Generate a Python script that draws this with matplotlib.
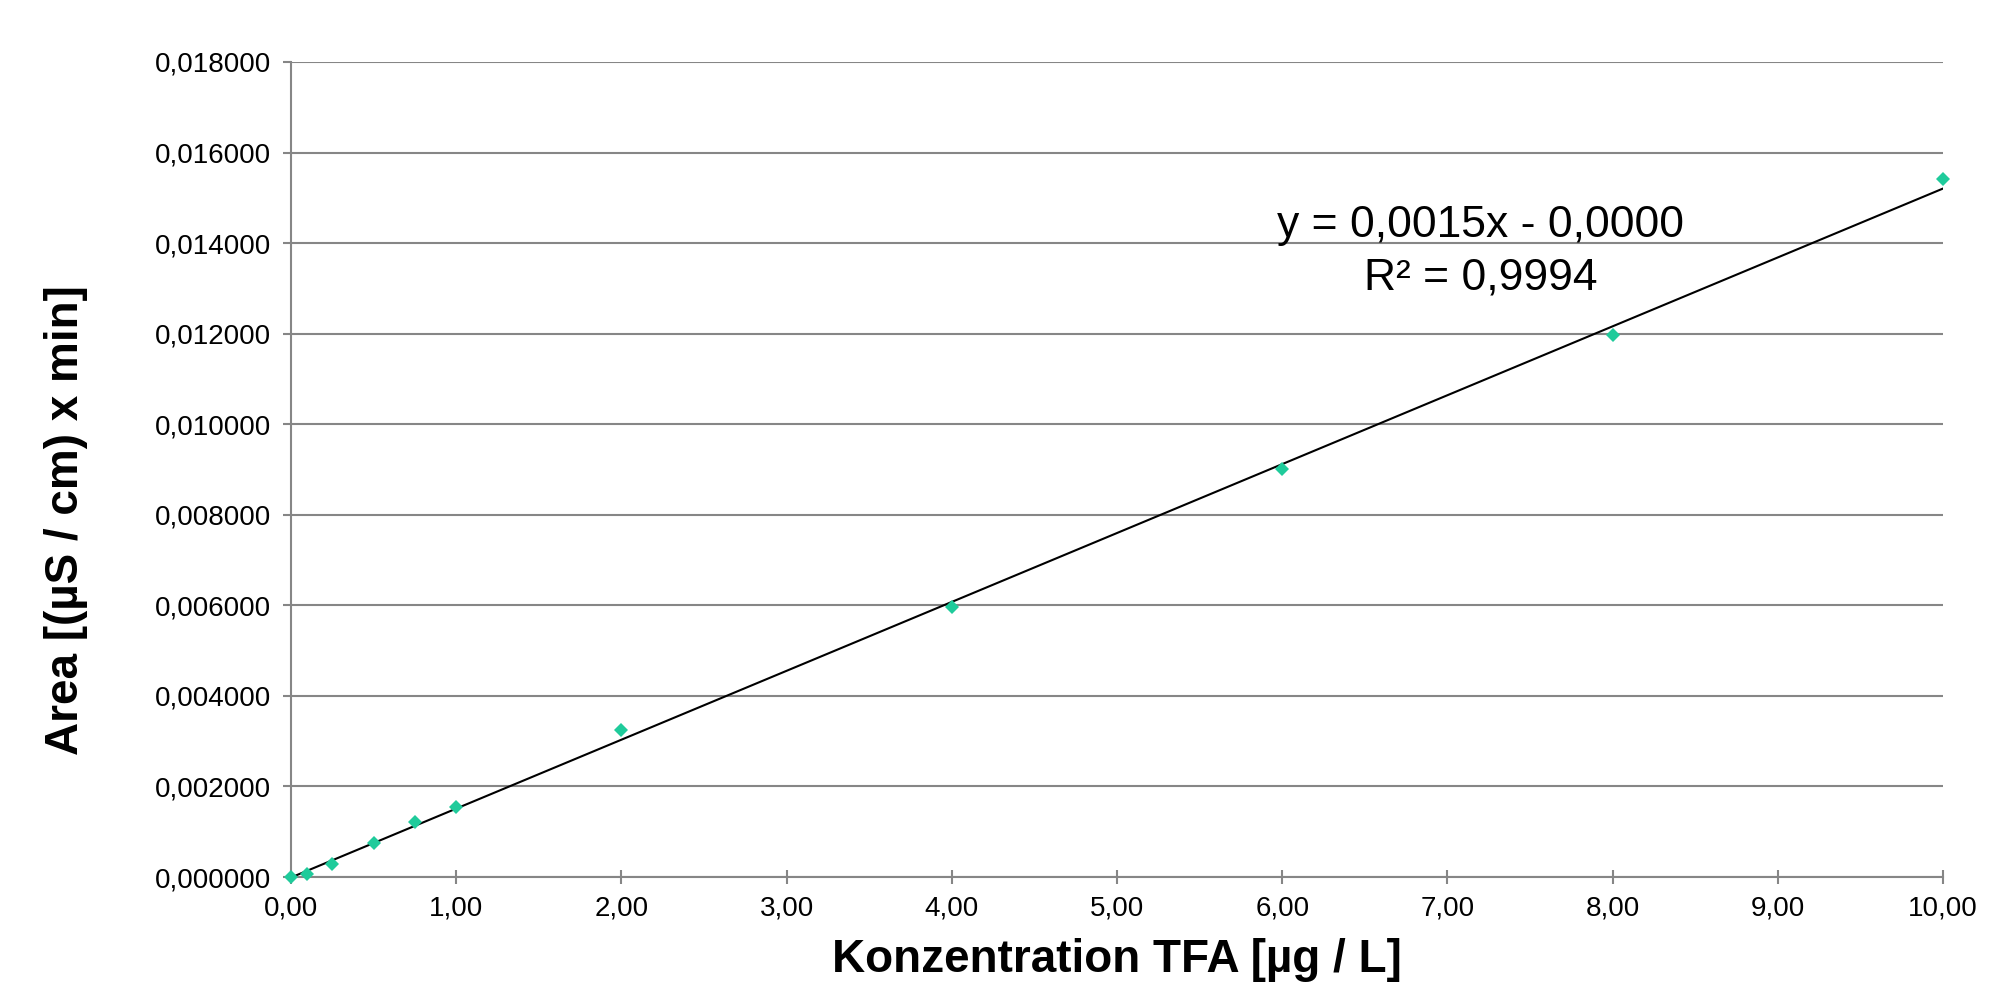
import numpy as np
import matplotlib
matplotlib.use("Agg")
import matplotlib.pyplot as plt
from matplotlib.ticker import FuncFormatter, MultipleLocator

plt.rcParams["font.family"] = ["Liberation Sans", "DejaVu Sans"]

# calibration points
conc = [0.0, 0.1, 0.25, 0.5, 0.75, 1.0, 2.0, 4.0, 6.0, 8.0, 10.0]
area = [0.0, 0.00007, 0.00028, 0.000756, 0.00121, 0.001556, 0.00325,
        0.00597, 0.0090, 0.01197, 0.01542]

eq_text = "y = 0,0015x - 0,0000"
r2_text = "R² = 0,9994"
x_label = "Konzentration TFA [µg / L]"
y_label = "Area [(µS / cm) x min]"

GRID = "#868686"
MARKER = "#1FCB9B"

slope, intercept = np.polyfit(conc, area, 1)
fit_x = np.array([min(conc), max(conc)])
fit_y = slope * fit_x + intercept

fig = plt.figure(figsize=(19.9, 9.82), dpi=100)
ax = fig.add_axes([0.1462, 0.1069, 0.8302, 0.83])

ax.plot(fit_x, fit_y, color="black", linewidth=1.5, zorder=3)
ax.plot(conc, area, linestyle="none", marker="D", markersize=7.5,
        color=MARKER, markeredgewidth=0, zorder=4, clip_on=False)

ax.set_xlim(0, 10)
ax.set_ylim(0, 0.018)
ax.xaxis.set_major_locator(MultipleLocator(1))
ax.yaxis.set_major_locator(MultipleLocator(0.002))
ax.xaxis.set_major_formatter(FuncFormatter(lambda v, _: f"{v:.2f}".replace(".", ",")))
ax.yaxis.set_major_formatter(FuncFormatter(lambda v, _: f"{v:.6f}".replace(".", ",")))

ax.grid(axis="y", color=GRID, linewidth=1.5)
ax.set_axisbelow(True)
for side in ("top", "right"):
    ax.spines[side].set_visible(False)
for side in ("left", "bottom"):
    ax.spines[side].set_color(GRID)
    ax.spines[side].set_linewidth(1.5)

ax.tick_params(axis="y", direction="out", length=6, width=1.5, color=GRID,
               labelsize=20, pad=8.5)
ax.tick_params(axis="x", direction="inout", length=10, width=1.5, color=GRID,
               labelsize=20, pad=8)

ax.set_xlabel(x_label, fontsize=33, fontweight="bold", labelpad=12)
ax.set_ylabel(y_label, fontsize=33, fontweight="bold")
ax.yaxis.set_label_coords(-0.123, 0.438)

ax.text(7.20, 0.014135, eq_text, fontsize=32, ha="center", va="baseline")
ax.text(7.20, 0.012965, r2_text, fontsize=32, ha="center", va="baseline")

fig.savefig("out.png", dpi=100)
